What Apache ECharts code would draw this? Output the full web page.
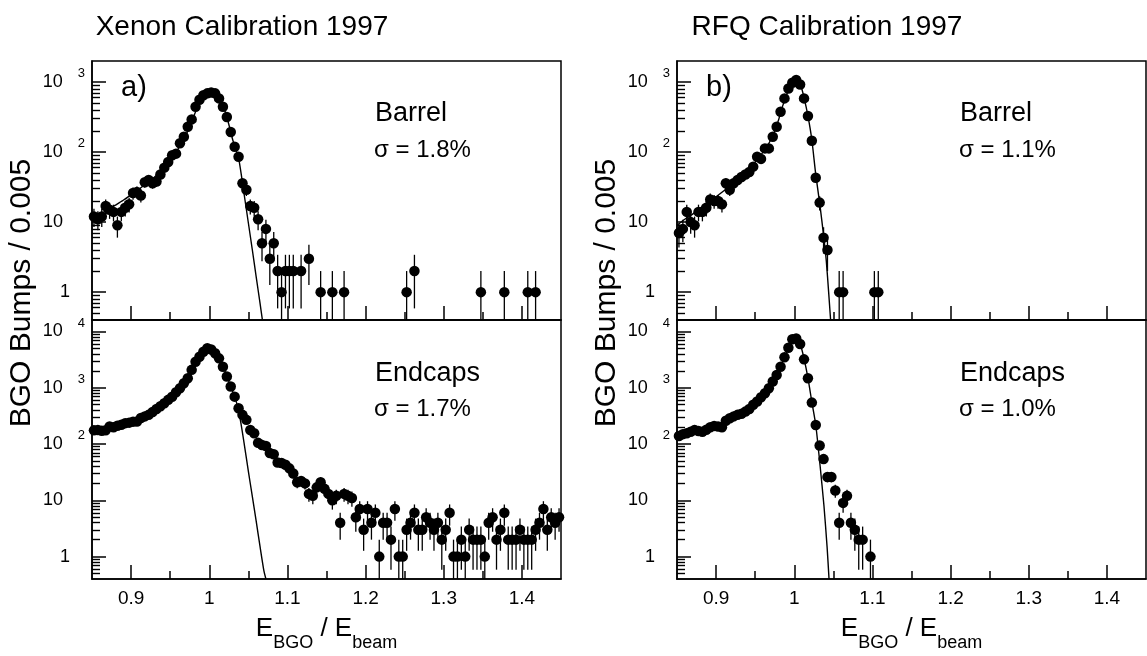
<!DOCTYPE html>
<html><head><meta charset="utf-8">
<script src="https://cdn.jsdelivr.net/npm/echarts@6/dist/echarts.min.js"></script>
<style>html,body{margin:0;padding:0;background:#fff}#c{width:1147px;height:656px}</style>
</head><body><div id="c"></div>
<script>
// ---------------- data ----------------
const BIN_START = 0.8525;   // centre of first bin
const BIN_WIDTH = 0.005;
const X_MIN = 0.85, X_MAX = 1.45;
const Y_MIN = 0.4;
const Y_MAX_BARREL = 2000, Y_MAX_ENDCAP = 16000;

const xTickValues = [0.9, 1.0, 1.1, 1.2, 1.3, 1.4];
const xMinorTicks = [0.95, 1.05, 1.15, 1.25, 1.35];
const yMajorBarrel = [1, 10, 100, 1000];
const yMajorEndcap = [1, 10, 100, 1000, 10000];
const yMinorTicks = [0.5,0.6,0.7,0.8,0.9, 2,3,4,5,6,7,8,9, 20,30,40,50,60,70,80,90,
  200,300,400,500,600,700,800,900, 2000,3000,4000,5000,6000,7000,8000,9000];

// counts per 0.005 bin (null = empty bin)
const barrelA = [12,11,12,17,15,14,9,14,16,18, 26,27,24,37,40,36,38,48,60,72,
  90,95,134,166,230,293,444,560,650,690, 710,690,585,444,318,194,119,86,36,29,
  17,16,11,5,8,3,5,2,1,2, 2,2,null,2,null,3,null,null,1,null,
  null,1,null,null,1,null,null,null,null,null, null,null,null,null,null,null,null,null,null,null,
  1,null,2,null,null,null,null,null,null,null, null,null,null,null,null,null,null,null,null,1,
  null,null,null,null,null,1,null,null,null,null, null,1,null,1];

const endcapA = [175,178,172,176,205,198,212,220,235,240, 250,252,290,310,330,370,420,470,530,610,
  690,830,980,1200,1480,2080,2890,3560,4360,5030, 4800,4100,3330,2360,1580,1050,695,433,330,269,
  178,156,105,96,92,69,66,47,46,43, 37,30,21,22,20,13,12,17,21,16,
  13,10,12,4,13,12,11,5,7,3, 7,4,6,1,4,4,2,7,1,1,
  3,4,6,3,3,5,4,3,4,2, 3,6,1,1,2,1,3,2,2,2,
  1,4,5,2,3,6,2,2,2,3, 2,2,2,3,4,7,3,5,4,5];

const barrelB = [7,8,14,10,9,14,14,16,21,20, 20,18,36,29,36,40,44,48,52,62,
  86,80,113,113,166,230,377,585,811,977, 1070,925,585,327,145,43,19,6,4,null,
  null,1,1,null,null,null,null,null,null,null, 1,1];

const endcapB = [139,150,156,165,178,170,165,180,199,210, 205,199,260,288,310,330,345,377,420,500,
  570,680,800,980,1290,1690,2360,3480,5140,7280, 7500,6000,3200,1480,545,218,94,54,26,26,
  15,4,9,12,4,3,2,2,null,1];

// fitted curves
const fitBarrelA_x = [0.85,0.86,0.87,0.88,0.89,0.90,0.91,0.92,0.93,0.94,0.95,0.96,0.97,0.975,0.98,0.985,0.99,0.995,1.0,1.005,1.01,1.015,1.02,1.025,1.03,1.0377,1.045,1.05,1.055,1.06,1.065,1.068];
const fitBarrelA_y = [11.5,13,15,17.5,20.5,24.5,29.5,36,44,56,75,110,175,230,320,440,560,650,700,705,640,530,390,250,150,80,23.4,9.8,4.1,1.67,0.69,0.4];

const fitEndcapA_x = [0.85,0.86,0.87,0.88,0.89,0.90,0.91,0.92,0.93,0.94,0.95,0.96,0.97,0.975,0.98,0.985,0.99,0.995,1.0,1.005,1.01,1.015,1.02,1.025,1.03,1.035,1.04,1.045,1.05,1.055,1.06,1.065,1.07,1.0725];
const fitEndcapA_y = [172,185,200,212,228,250,275,315,380,480,640,880,1250,1600,2200,3000,3900,4700,5000,4700,3900,2900,2000,1300,860,540,257,95,33,12,4.3,1.5,0.55,0.4];

const fitBarrelB_x = [0.85,0.86,0.87,0.88,0.89,0.90,0.91,0.92,0.93,0.94,0.95,0.96,0.965,0.97,0.975,0.98,0.985,0.99,0.995,1.0,1.004,1.008,1.0125,1.0175,1.0225,1.0275,1.033,1.0375,1.041,1.044,1.0465];
const fitBarrelB_y = [9,11,13,16,19,23,28,34,42,54,72,100,120,150,200,290,450,650,880,1030,1070,920,600,330,150,48,17,6.5,2.8,1.0,0.4];

const fitEndcapB_x = [0.85,0.86,0.87,0.88,0.89,0.90,0.91,0.92,0.93,0.94,0.95,0.96,0.965,0.97,0.975,0.98,0.985,0.99,0.995,1.0,1.004,1.0075,1.0125,1.0175,1.0225,1.0275,1.033,1.038,1.042,1.0445];
const fitEndcapB_y = [140,155,168,182,198,220,250,290,345,430,550,760,930,1150,1450,2000,2850,4200,6100,7400,7600,6100,3300,1500,560,220,42,8,1.5,0.4];

const titles = ['Xenon Calibration 1997', 'RFQ Calibration 1997'];
const panelTags = ['a)', 'b)'];
const regionNames = ['Barrel', 'Endcaps'];
const sigmaTexts = [['σ = 1.8%', 'σ = 1.7%'], ['σ = 1.1%', 'σ = 1.0%']];
const yTitle = 'BGO Bumps / 0.005';

// ---------------- helpers ----------------
const FONT = '"Liberation Sans", Arial, Helvetica, sans-serif';
function binPoints(counts) {
  const out = [];
  counts.forEach((n, i) => { if (n != null) out.push([+(BIN_START + i * BIN_WIDTH).toFixed(4), n]); });
  return out;
}
function errPoints(counts) {
  return binPoints(counts).map(([x, n]) => [x, Math.max(n - Math.sqrt(n), Y_MIN), n + Math.sqrt(n)]);
}
function pairs(xs, ys) { return xs.map((x, i) => [x, ys[i]]); }

function yLabel(v) {
  const l = Math.log10(v), k = Math.round(l);
  if (Math.abs(l - k) > 1e-6) return '';
  if (k === 0) return '{one|1}';
  if (k === 1) return '{ten|10}';
  return '{n|10}{s|' + k + '}';
}
const yRich = {
  one: { fontSize: 18, lineHeight: 30, padding: [0, 15, 0, 0], color: '#000', fontFamily: FONT },
  ten: { fontSize: 18, lineHeight: 30, padding: [0, 22, 0, 0], color: '#000', fontFamily: FONT },
  n: { fontSize: 18, lineHeight: 30, color: '#000', fontFamily: FONT },
  s: { fontSize: 13, lineHeight: 10, verticalAlign: 'top', padding: [0, 0, 0, 15], color: '#000', fontFamily: FONT }
};

const panels = [
  { left: 92, top: 61, counts: barrelA, fx: fitBarrelA_x, fy: fitBarrelA_y, yMax: Y_MAX_BARREL, majors: yMajorBarrel, xLabels: false },
  { left: 92, top: 320, counts: endcapA, fx: fitEndcapA_x, fy: fitEndcapA_y, yMax: Y_MAX_ENDCAP, majors: yMajorEndcap, xLabels: true },
  { left: 677, top: 61, counts: barrelB, fx: fitBarrelB_x, fy: fitBarrelB_y, yMax: Y_MAX_BARREL, majors: yMajorBarrel, xLabels: false },
  { left: 677, top: 320, counts: endcapB, fx: fitEndcapB_x, fy: fitEndcapB_y, yMax: Y_MAX_ENDCAP, majors: yMajorEndcap, xLabels: true }
];
const PW = 469, PH = 259;

const grid = [], xAxis = [], yAxis = [], series = [];
panels.forEach((p, gi) => {
  grid.push({ left: p.left, top: p.top, width: PW, height: PH, show: true, borderColor: '#000', borderWidth: 1.5, backgroundColor: 'transparent' });
  const xi = xAxis.length, yi = yAxis.length;
  // main axes
  xAxis.push({
    type: 'value', gridIndex: gi, position: 'bottom', min: X_MIN, max: X_MAX,
    axisLine: { show: true, lineStyle: { color: '#000', width: 1.5 } },
    axisTick: { show: true, inside: true, length: 14, customValues: xTickValues, lineStyle: { color: '#000', width: 1.5 } },
    axisLabel: { show: p.xLabels, customValues: xTickValues, margin: 10, fontSize: 19, color: '#000', fontFamily: FONT,
      formatter: v => String(+v.toFixed(2)) },
    splitLine: { show: false }
  });
  yAxis.push({
    type: 'log', logBase: 10, gridIndex: gi, position: 'left', min: Y_MIN, max: p.yMax,
    axisLine: { show: true, lineStyle: { color: '#000', width: 1.5 } },
    axisTick: { show: true, inside: true, length: 14, customValues: p.majors, lineStyle: { color: '#000', width: 1.5 } },
    axisLabel: { show: true, customValues: p.majors, margin: 7, formatter: yLabel, rich: yRich },
    splitLine: { show: false }
  });
  // companion axes carrying only the minor ticks
  xAxis.push({
    type: 'value', gridIndex: gi, position: 'bottom', offset: 0, min: X_MIN, max: X_MAX,
    axisLine: { show: false },
    axisTick: { show: true, inside: true, length: 8, customValues: xMinorTicks, lineStyle: { color: '#000', width: 1.5 } },
    axisLabel: { show: false },
    splitLine: { show: false }
  });
  yAxis.push({
    type: 'log', logBase: 10, gridIndex: gi, position: 'left', offset: 0, min: Y_MIN, max: p.yMax,
    axisLine: { show: false },
    axisTick: { show: true, inside: true, length: 8, customValues: yMinorTicks.filter(v => v > Y_MIN && v < p.yMax), lineStyle: { color: '#000', width: 1.4 } },
    axisLabel: { show: false },
    splitLine: { show: false }
  });
  series.push({
    type: 'custom', xAxisIndex: xi, yAxisIndex: yi, silent: true, clip: true,
    data: errPoints(p.counts), encode: { x: 0, y: [1, 2] },
    renderItem: (params, api) => {
      const x = api.value(0);
      const a = api.coord([x, api.value(1)]), b = api.coord([x, api.value(2)]);
      return { type: 'line', shape: { x1: a[0], y1: a[1], x2: b[0], y2: b[1] }, style: { stroke: '#000', lineWidth: 1.3 } };
    }
  });
  series.push({
    type: 'scatter', xAxisIndex: xi, yAxisIndex: yi, silent: true,
    data: binPoints(p.counts), symbol: 'circle', symbolSize: 10.5,
    itemStyle: { color: '#000', opacity: 1, borderWidth: 0 }
  });
  series.push({
    type: 'line', xAxisIndex: xi, yAxisIndex: yi, silent: true, clip: true,
    data: pairs(p.fx, p.fy), showSymbol: false, smooth: 0.2,
    lineStyle: { color: '#000', width: 1.4, opacity: 1 }
  });
});

const graphic = [];
const colLeft = [92, 677];
[0, 1].forEach(c => {
  const L = colLeft[c];
  graphic.push({ type: 'text', x: L + 150, y: 27, style: { text: titles[c], fontSize: 28, fontFamily: FONT, fill: '#000', align: 'center', verticalAlign: 'middle' } });
  graphic.push({ type: 'text', x: L - 70, y: 293, rotation: Math.PI / 2, style: { text: yTitle, fontSize: 30, fontFamily: FONT, fill: '#000', align: 'center', verticalAlign: 'middle' } });
  graphic.push({ type: 'text', x: L + 42, y: 88, style: { text: panelTags[c], fontSize: 29, fontFamily: FONT, fill: '#000', align: 'center', verticalAlign: 'middle' } });
  graphic.push({ type: 'text', x: L + 283, y: 114, style: { text: regionNames[0], fontSize: 27, fontFamily: FONT, fill: '#000', align: 'left', verticalAlign: 'middle' } });
  graphic.push({ type: 'text', x: L + 282, y: 150, style: { text: sigmaTexts[c][0], fontSize: 24, fontFamily: FONT, fill: '#000', align: 'left', verticalAlign: 'middle' } });
  graphic.push({ type: 'text', x: L + 283, y: 374, style: { text: regionNames[1], fontSize: 27, fontFamily: FONT, fill: '#000', align: 'left', verticalAlign: 'middle' } });
  graphic.push({ type: 'text', x: L + 282, y: 409, style: { text: sigmaTexts[c][1], fontSize: 24, fontFamily: FONT, fill: '#000', align: 'left', verticalAlign: 'middle' } });
  graphic.push({ type: 'text', x: L + PW / 2, y: 631, style: {
    text: '{e|E}{sub|BGO}{e| / E}{sub|beam}', align: 'center', verticalAlign: 'middle',
    rich: {
      e: { fontSize: 26, lineHeight: 30, verticalAlign: 'top', fontFamily: FONT, fill: '#000' },
      sub: { fontSize: 18, lineHeight: 18, verticalAlign: 'top', padding: [18, 0, 0, 0], fontFamily: FONT, fill: '#000' }
    } } });
});

const chart = echarts.init(document.getElementById('c'), null, { renderer: 'canvas' });
chart.setOption({
  animation: false,
  backgroundColor: '#fff',
  textStyle: { fontFamily: FONT, color: '#000' },
  grid, xAxis, yAxis, series, graphic
});
</script></body></html>
